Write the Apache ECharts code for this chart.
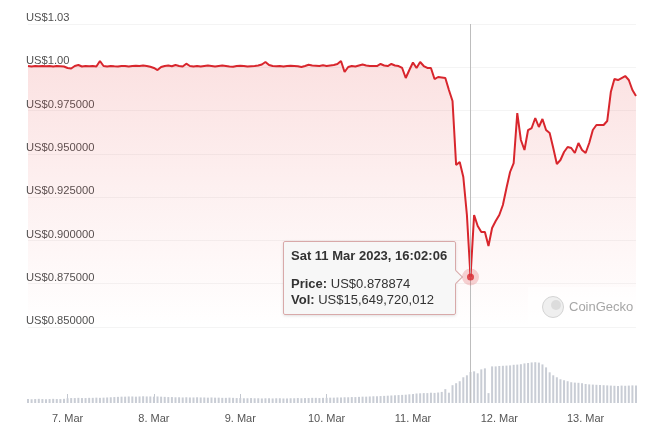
<!DOCTYPE html>
<html>
<head>
<meta charset="utf-8">
<script src="https://cdn.jsdelivr.net/npm/echarts@6/dist/echarts.min.js"></script>
<style>
  html, body { margin: 0; padding: 0; background: #ffffff; }
  #chart { width: 660px; height: 431px; }
</style>
</head>
<body>
<div id="chart"></div>
<script>
// ---- data (hourly, from 6 Mar 2023 13:00 to 13 Mar 2023 14:00) ----
const startDay = 6;      // 6 Mar
const startHour = 13;    // 13:00
const pointCount = 170;

const prices = [
  1.00074,1.00045,1.00074,1.00057,1.00074,1.00057,1.00074,1.00045,1.00074,1.00063,
  1.00045,0.99959,0.99930,1.00074,1.00132,1.00045,1.00074,1.00057,1.00074,1.00045,
  1.00363,1.00074,1.00045,1.00074,1.00057,1.00045,1.00074,1.00074,1.00045,1.00074,
  1.00091,1.00074,1.00103,1.00074,1.00028,0.99959,0.99843,1.00016,1.00074,1.00103,
  1.00057,1.00132,1.00074,1.00045,1.00207,1.00074,1.00045,1.00074,1.00045,1.00074,
  1.00103,1.00074,1.00045,1.00074,1.00103,1.00074,1.00045,1.00028,1.00074,1.00086,
  1.00074,1.00045,1.00063,1.00074,1.00103,1.00161,1.00305,1.00132,1.00074,1.00057,
  1.00074,1.00045,1.00074,1.00086,1.00074,1.00057,1.00016,1.00074,1.00143,1.00103,
  1.00091,1.00074,1.00114,1.00074,1.00103,1.00132,1.00190,1.00363,0.99728,1.00016,
  1.00074,1.00045,1.00103,1.00161,1.00103,1.00074,1.00074,1.00074,1.00190,1.00103,
  1.00074,1.00190,1.00103,1.00074,0.99959,0.99381,0.99843,1.00276,0.99959,1.00305,
  1.00074,0.99959,0.99959,0.99323,0.99439,0.99410,0.99381,0.98688,0.98052,0.94356,
  0.94529,0.93663,0.91468,0.878874,0.91468,0.90832,0.90486,0.90486,0.89677,0.90717,
  0.91121,0.91468,0.92045,0.93027,0.93952,0.94471,0.97359,0.95800,0.95222,0.96377,
  0.96493,0.97071,0.96551,0.97013,0.96377,0.96204,0.95338,0.94414,0.94645,0.95107,
  0.95396,0.95338,0.95049,0.95627,0.95222,0.95049,0.95627,0.96377,0.96666,0.96666,
  0.96666,0.96897,0.98572,0.99323,0.99265,0.99381,0.99496,0.99265,0.98688,0.98341
];

// 24h volume, billions of US$
const volumesB = [
  2.0,1.9,2.0,2.1,2.0,1.9,2.0,2.1,2.0,2.0,2.1,
  2.4,2.5,2.5,2.6,2.5,2.5,2.6,2.6,2.7,2.6,2.7,2.8,
  2.9,3.0,3.1,3.2,3.2,3.3,3.3,3.2,3.3,3.4,3.3,3.3,3.2,3.3,3.2,3.1,
  3.0,3.0,2.9,2.9,2.8,2.9,2.8,2.8,2.9,2.8,2.8,2.7,2.8,2.7,2.7,2.6,2.6,2.7,2.6,
  2.5,2.5,2.4,2.4,2.5,2.4,2.4,2.3,2.4,2.4,2.3,2.4,2.4,2.3,2.3,2.4,2.4,2.5,2.4,2.5,2.5,2.6,2.6,2.5,2.6,2.6,2.7,
  2.7,2.8,2.8,2.9,2.9,3.0,3.0,3.1,3.2,3.2,3.3,3.4,3.4,
  3.5,3.6,3.7,3.8,3.9,4.0,4.1,4.2,4.4,4.5,
  4.8,4.9,5.0,5.0,5.2,5.1,5.3,5.6,
  7.0,5.2,9.0,10.0,11.0,13.0,14.0,15.649720012,16.0,15.0,
  17.0,17.5,5.0,18.5,18.5,18.7,18.8,18.9,19.0,19.3,
  19.4,19.6,20.0,20.2,20.5,20.6,20.4,19.5,18.0,15.5,
  14.0,13.0,12.0,11.5,11.0,10.5,10.3,10.2,10.0,9.6,
  9.4,9.3,9.2,9.1,9.0,8.9,8.8,8.7,8.6,8.8,
  8.7,8.8,8.9,8.8
];

const priceTickLabels = ['US$0.850000','US$0.875000','US$0.900000','US$0.925000',
                         'US$0.950000','US$0.975000','US$1.00','US$1.03'];
const priceMin = 0.85, priceMax = 1.025, priceStep = 0.025;
const monthLabel = 'Mar';

const hoverIndex = 123;
const hoverTime = 'Sat 11 Mar 2023, 16:02:06';

if (prices.length !== pointCount || volumesB.length !== pointCount) {
  throw new Error('length mismatch ' + prices.length + ' ' + volumesB.length);
}

function pad(n) { return (n < 10 ? '0' : '') + n; }
const categories = [];
for (let i = 0; i < pointCount; i++) {
  const h = startHour + i;
  const d = startDay + Math.floor(h / 24);
  categories.push('2023-03-' + pad(d) + ' ' + pad(h % 24) + ':00');
}
const isMidnight = (idx, val) => val.slice(-5) === '00:00';

const FONT = '"Liberation Sans", Arial, Helvetica, sans-serif';
const RED = '#d8262d';

const chart = echarts.init(document.getElementById('chart'), null, { renderer: 'canvas' });

const option = {
  animation: false,
  backgroundColor: '#ffffff',
  textStyle: { fontFamily: FONT },
  grid: [
    { left: 28, right: 24, top: 24, height: 303 },
    { left: 28, right: 24, top: 327, height: 76 }
  ],
  xAxis: [
    {
      type: 'category', gridIndex: 0, data: categories, boundaryGap: false,
      axisLine: { show: false }, axisTick: { show: false }, axisLabel: { show: false },
      splitLine: { show: false }
    },
    {
      type: 'category', gridIndex: 1, data: categories, boundaryGap: false,
      axisLine: { show: false },
      axisTick: { show: true, inside: true, length: 9, interval: isMidnight,
                  lineStyle: { color: '#c3c7cf', width: 1 } },
      axisLabel: {
        interval: isMidnight, margin: 10, color: '#555555', fontSize: 11, fontFamily: FONT,
        formatter: function (v) { return parseInt(v.slice(8, 10), 10) + '. ' + monthLabel; }
      },
      splitLine: { show: false }
    }
  ],
  yAxis: [
    {
      type: 'value', gridIndex: 0, min: priceMin, max: priceMax, interval: priceStep,
      axisLine: { show: false }, axisTick: { show: false },
      splitLine: { show: true, lineStyle: { color: '#f4f4f4', width: 1 } },
      axisLabel: {
        inside: true, margin: -2, color: '#505050', fontSize: 11.2, fontFamily: FONT,
        verticalAlign: 'bottom', lineHeight: 12,
        formatter: function (v) { return priceTickLabels[Math.round((v - priceMin) / priceStep)]; }
      }
    },
    {
      type: 'value', gridIndex: 1, min: 0, max: 38.4,
      show: false, splitLine: { show: false }
    }
  ],
  tooltip: {
    trigger: 'item',
    alwaysShowContent: true,
    transitionDuration: 0,
    showDelay: 0,
    backgroundColor: 'rgba(247,247,247,0.98)',
    borderColor: '#d8a9a9',
    borderWidth: 1,
    padding: [6, 8, 6, 7],
    extraCssText: 'box-shadow:0 1px 3px rgba(0,0,0,0.12);border-radius:2px;',
    textStyle: { color: '#333333', fontSize: 13, fontFamily: FONT },
    position: function (point, params, dom, rect, size) {
      return [point[0] - size.contentSize[0] - 15, point[1] - 36];
    },
    formatter: function () {
      const p = prices[hoverIndex];
      const v = Math.round(volumesB[hoverIndex] * 1e9).toLocaleString('en-US');
      return '<div style="position:relative;font-family:' + FONT.replace(/"/g, "'") + ';">' +
        '<div style="font-weight:bold;font-size:13px;line-height:16px;color:#333;">' + hoverTime + '</div>' +
        '<div style="height:12px"></div>' +
        '<div style="font-size:13px;line-height:16px;color:#333;"><b>Price:</b> US$' + p.toFixed(6) + '</div>' +
        '<div style="font-size:13px;line-height:16px;color:#333;"><b>Vol:</b> US$' + v + '</div>' +
        '</div>' +
        '<div style="position:absolute;right:-6px;top:30px;width:9px;height:9px;background:#f7f7f7;' +
        'border-right:1px solid #d8a9a9;border-top:1px solid #d8a9a9;transform:rotate(45deg);"></div>';
    }
  },
  series: [
    {
      name: 'Price', type: 'line', xAxisIndex: 0, yAxisIndex: 0,
      data: prices, showSymbol: false, symbol: 'none', smooth: false,
      lineStyle: { color: RED, width: 2 },
      areaStyle: {
        origin: 'start',
        color: new echarts.graphic.LinearGradient(0, 0, 0, 1, [
          { offset: 0, color: 'rgba(232,70,70,0.23)' },
          { offset: 0.5, color: 'rgba(232,70,70,0.11)' },
          { offset: 1, color: 'rgba(232,70,70,0.0)' }
        ])
      },
      markLine: {
        silent: true, symbol: 'none', label: { show: false },
        lineStyle: { color: '#bdbdbd', width: 1, type: 'solid' },
        data: [{ xAxis: categories[hoverIndex] }]
      },
      z: 3, tooltip: { show: false }
    },
    {
      name: 'Volume', type: 'bar', xAxisIndex: 1, yAxisIndex: 1,
      data: volumesB, barWidth: 2,
      itemStyle: { color: '#c9cdd5' },
      markLine: {
        silent: true, symbol: 'none', label: { show: false },
        lineStyle: { color: '#bdbdbd', width: 1, type: 'solid' },
        data: [{ xAxis: categories[hoverIndex] }]
      },
      tooltip: { show: false }
    },
    {
      name: 'Hover', type: 'scatter', xAxisIndex: 0, yAxisIndex: 0,
      data: [[hoverIndex, prices[hoverIndex]]],
      symbol: 'circle', symbolSize: 7,
      itemStyle: { color: RED, borderColor: 'rgba(216,38,45,0.25)', borderWidth: 10 },
      z: 5
    }
  ],
  graphic: [
    { type: 'rect', shape: { x: 528, y: 287, width: 110, height: 36 },
      style: { fill: 'rgba(255,255,255,0.55)' }, z: 10, silent: true },
    { type: 'circle', shape: { cx: 553, cy: 307, r: 10.5 },
      style: { fill: '#efefef', stroke: '#d4d4d4', lineWidth: 1 }, z: 11, silent: true },
    { type: 'circle', shape: { cx: 556, cy: 305, r: 5 },
      style: { fill: '#dcdcdc' }, z: 12, silent: true },
    { type: 'text', x: 569, y: 307,
      style: { text: 'CoinGecko', fill: '#a6a6a6', fontSize: 13, fontFamily: FONT, verticalAlign: 'middle' },
      z: 12, silent: true }
  ]
};

chart.setOption(option);
chart.dispatchAction({ type: 'showTip', seriesIndex: 2, dataIndex: 0 });
</script>
</body>
</html>
